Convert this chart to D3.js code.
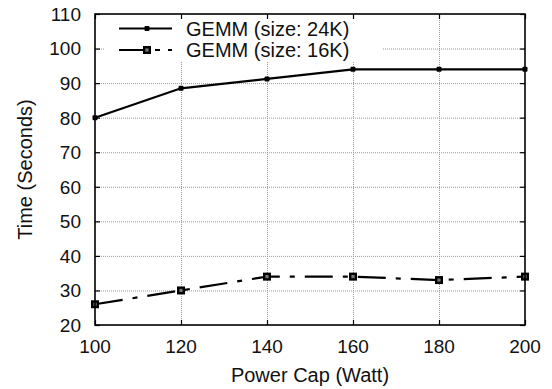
<!DOCTYPE html>
<html>
  <head>
    <meta charset="utf-8">
    <title></title>
    <style>
      body { margin: 0; background: #fff; }
      svg text { font-family: "Liberation Sans", Arial, sans-serif; fill: #111; }
    </style>
    <script src="https://cdnjs.cloudflare.com/ajax/libs/d3/7.8.5/d3.min.js"></script>
  </head>
  <body>
    <svg id="chart" width="552" height="389"></svg>
    <script>
var powerCaps = [100, 120, 140, 160, 180, 200];
var time24K = [80, 88.5, 91.2, 94, 94, 94];
var time16K = [26, 30, 34, 34, 33, 34];
var xTicks = [100, 120, 140, 160, 180, 200];
var yTicks = [20, 30, 40, 50, 60, 70, 80, 90, 100, 110];
var seriesNames = ["GEMM (size: 24K)", "GEMM (size: 16K)"];

var plotL = 95, plotR = 525, plotT = 14, plotB = 325;
var svg = d3.select("#chart");

var x = d3.scaleLinear().domain([100, 200]).range([plotL, plotR]);
var y = d3.scaleLinear().domain([20, 110]).range([plotB, plotT]);

// grid
var grid = svg.append("g").attr("stroke", "#999").attr("stroke-dasharray", "1,1").attr("stroke-width", 1);
grid.selectAll(".gx").data(xTicks.slice(1, -1)).enter().append("line")
  .attr("x1", d => x(d) + 0.5).attr("x2", d => x(d) + 0.5).attr("y1", plotT).attr("y2", plotB);
grid.selectAll(".gy").data(yTicks.slice(1, -1)).enter().append("line")
  .attr("x1", plotL).attr("x2", plotR).attr("y1", d => y(d) + 0.5).attr("y2", d => y(d) + 0.5);

// legend box hides grid
svg.append("rect").attr("x", 105).attr("y", plotT + 1).attr("width", 277).attr("height", 46).attr("fill", "#fff");

// lines
var line = d3.line().x((d, i) => x(powerCaps[i])).y(d => y(d));
svg.append("path").datum(time24K).attr("d", line)
  .attr("fill", "none").attr("stroke", "#000").attr("stroke-width", 2.2);
svg.append("path").datum(time16K).attr("d", line)
  .attr("fill", "none").attr("stroke", "#000").attr("stroke-width", 2.2)
  .attr("stroke-dasharray", "28,10,5,10");

svg.selectAll(".m24").data(time24K).enter().append("rect")
  .attr("x", (d, i) => x(powerCaps[i]) - 2.5).attr("y", d => y(d) - 2.5)
  .attr("width", 5).attr("height", 5).attr("rx", 1).attr("fill", "#000");
svg.selectAll(".m16").data(time16K).enter().append("rect")
  .attr("x", (d, i) => x(powerCaps[i]) - 2.8).attr("y", d => y(d) - 2.8)
  .attr("width", 5.6).attr("height", 5.6).attr("fill", "#777").attr("stroke", "#000").attr("stroke-width", 2.4);

// axes (ticks inward, mirrored)
var fontSize = 19;
var axL = svg.append("g").attr("transform", "translate(" + plotL + ",0)")
  .call(d3.axisRight(y).tickValues(yTicks).tickSize(5).tickFormat(""));
var axR = svg.append("g").attr("transform", "translate(" + plotR + ",0)")
  .call(d3.axisLeft(y).tickValues(yTicks).tickSize(5).tickFormat(""));
var axB = svg.append("g").attr("transform", "translate(0," + plotB + ")")
  .call(d3.axisTop(x).tickValues(xTicks).tickSize(5).tickFormat(""));
var axT = svg.append("g").attr("transform", "translate(0," + plotT + ")")
  .call(d3.axisBottom(x).tickValues(xTicks).tickSize(5).tickFormat(""));
[axL, axR, axB, axT].forEach(function(g){
  g.select(".domain").remove();
  g.selectAll("line").attr("stroke", "#000").attr("stroke-width", 1.2);
});

svg.append("rect").attr("x", plotL).attr("y", plotT).attr("width", plotR - plotL).attr("height", plotB - plotT)
  .attr("fill", "none").attr("stroke", "#000").attr("stroke-width", 1.6);

// tick labels
svg.selectAll(".yl").data(yTicks).enter().append("text")
  .attr("x", 81).attr("y", d => y(d)).attr("dy", "0.36em").attr("text-anchor", "end")
  .style("font-size", fontSize + "px").text(d => d);
svg.selectAll(".xl").data(xTicks).enter().append("text")
  .attr("x", d => x(d)).attr("y", 353).attr("text-anchor", "middle")
  .style("font-size", fontSize + "px").text(d => d);

// titles
svg.append("text").attr("x", (plotL + plotR) / 2).attr("y", 382).attr("text-anchor", "middle")
  .style("font-size", "20px").text("Power Cap (Watt)");
svg.append("text").attr("transform", "translate(32," + ((plotT + plotB) / 2) + ") rotate(-90)")
  .attr("text-anchor", "middle").style("font-size", "20px").text("Time (Seconds)");

// legend
var legY = [28.5, 50];
var leg = svg.append("g");
leg.append("line").attr("x1", 119).attr("x2", 172).attr("y1", legY[0]).attr("y2", legY[0])
  .attr("stroke", "#000").attr("stroke-width", 2.2);
leg.append("rect").attr("x", 144.5).attr("y", legY[0] - 2.5).attr("width", 5).attr("height", 5)
  .attr("rx", 1).attr("fill", "#000");
leg.append("line").attr("x1", 119).attr("x2", 172).attr("y1", legY[1]).attr("y2", legY[1])
  .attr("stroke", "#000").attr("stroke-width", 2.2).attr("stroke-dasharray", "28,8,5,8,5,8");
leg.append("rect").attr("x", 144.2).attr("y", legY[1] - 2.8).attr("width", 5.6).attr("height", 5.6)
  .attr("fill", "#777").attr("stroke", "#000").attr("stroke-width", 2.4);
leg.selectAll("text").data(seriesNames).enter().append("text")
  .attr("x", 186).attr("y", (d, i) => legY[i]).attr("dy", "0.36em")
  .style("font-size", "20px").text(d => d);
    </script>
  </body>
</html>
